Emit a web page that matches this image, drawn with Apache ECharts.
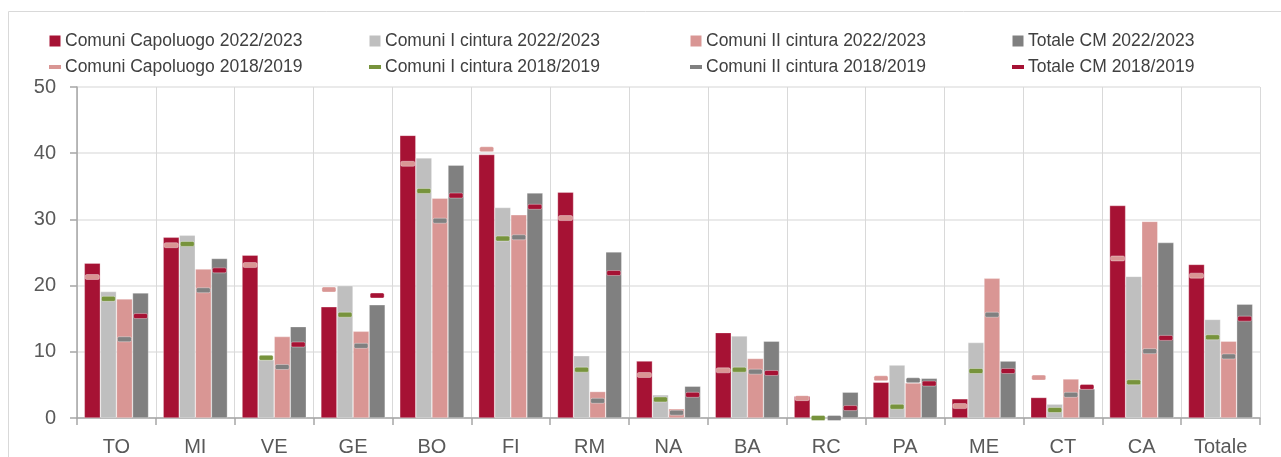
<!DOCTYPE html>
<html>
<head>
<meta charset="utf-8">
<script src="https://cdn.jsdelivr.net/npm/echarts@6/dist/echarts.min.js"></script>
<style>
html,body{margin:0;padding:0;background:#fff;}
#chart{width:1281px;height:457px;}
</style>
</head>
<body>
<div id="chart"></div>
<script>
// categorie (città metropolitane)
var categories = ['TO','MI','VE','GE','BO','FI','RM','NA','BA','RC','PA','ME','CT','CA','Totale'];
var yTicks = [0, 10, 20, 30, 40, 50];

// 2022/2023 (barre)
var capoluogo2223 = [23.4, 27.3, 24.6, 16.8, 42.7, 39.8, 34.1, 8.6, 12.9, 3.3, 5.4, 2.9, 3.1, 32.1, 23.2];
var cintura1_2223 = [19.1, 27.6, 8.8, 20.0, 39.3, 31.8, 9.4, 3.5, 12.4, 0, 8.0, 11.4, 2.1, 21.4, 14.9];
var cintura2_2223 = [18.0, 22.5, 12.3, 13.1, 33.2, 30.7, 4.0, 1.4, 9.0, 0, 5.3, 21.1, 5.9, 29.7, 11.6];
var totale2223    = [18.9, 24.1, 13.8, 17.1, 38.2, 34.0, 25.1, 4.8, 11.6, 3.9, 6.0, 8.6, 4.4, 26.5, 17.2];

// 2018/2019 (trattini)
var capoluogo1819 = [21.3, 26.1, 23.1, 19.4, 38.4, 40.6, 30.2, 6.5, 7.2, 3.0, 6.0, 1.8, 6.1, 24.1, 21.5];
var cintura1_1819 = [18.0, 26.3, 9.1, 15.6, 34.3, 27.1, 7.3, 2.8, 7.3, 0, 1.7, 7.1, 1.2, 5.4, 12.2];
var cintura2_1819 = [11.9, 19.3, 7.7, 10.9, 29.8, 27.3, 2.6, 0.8, 7.0, 0, 5.7, 15.6, 3.5, 10.1, 9.3];
var totale1819    = [15.4, 22.3, 11.1, 18.5, 33.6, 31.9, 21.9, 3.5, 6.8, 1.5, 5.2, 7.1, 4.7, 12.1, 15.0];

var colCap = '#A61234', colI = '#BFBFBF', colII = '#D99694', colTot = '#808080', colGreen = '#77933C';
var font = "'Liberation Sans', Arial, sans-serif";
var catGap = 0.185;

var myChart = echarts.init(document.getElementById('chart'));

function barSerie(name, data, color) {
    return {
        name: name, type: 'bar', data: data,
        barGap: 0, barCategoryGap: (catGap * 100) + '%',
        itemStyle: {color: color, borderColor: 'rgba(255,255,255,0.5)', borderWidth: 0.6},
        emphasis: {disabled: true},
        z: 2
    };
}

// trattino allineato alla k-esima barra della categoria
function dashSerie(name, data, color, k) {
    return {
        name: name, type: 'custom', data: data.map(function (v, i) { return [i, v]; }),
        itemStyle: {color: color},
        encode: {x: 0, y: 1},
        z: 5,
        renderItem: function (params, api) {
            var pt = api.coord([api.value(0), api.value(1)]);
            var band = api.size([1, 0])[0];
            var bw = band * (1 - catGap) / 4;
            var cx = pt[0] + (k - 1.5) * bw;
            return {
                type: 'rect',
                shape: {x: cx - 7, y: pt[1] - 2.5, width: 14, height: 5, r: 1.5},
                style: {fill: color, stroke: 'rgba(255,255,255,0.6)', lineWidth: 0.6}
            };
        }
    };
}

var square = 'path://M0,0h11v11h-11z';
var dash = 'path://M0,0h12v4h-12z';
var legendCols = [
    [{name: 'Comuni Capoluogo 2022/2023', icon: square}, {name: 'Comuni Capoluogo 2018/2019', icon: dash}],
    [{name: 'Comuni I cintura 2022/2023', icon: square}, {name: 'Comuni I cintura 2018/2019', icon: dash}],
    [{name: 'Comuni II cintura 2022/2023', icon: square}, {name: 'Comuni II cintura 2018/2019', icon: dash}],
    [{name: 'Totale CM 2022/2023', icon: square}, {name: 'Totale CM 2018/2019', icon: dash}]
];
var legendLeft = [44, 364, 685, 1007];

var option = {
    animation: false,
    textStyle: {fontFamily: font},
    graphic: [{
        type: 'rect', silent: true,
        shape: {x: 8.5, y: 11.5, width: 1400, height: 600},
        style: {fill: 'none', stroke: '#d9d9d9', lineWidth: 1}
    }],
    legend: legendCols.map(function (col, i) {
        return {
            data: col, orient: 'vertical', left: legendLeft[i], top: 26,
            itemWidth: 12, itemHeight: 11, itemGap: 6, symbolKeepAspect: true,
            selectedMode: false,
            itemStyle: {borderWidth: 0},
            textStyle: {fontFamily: font, fontSize: 17.5, color: '#404040', lineHeight: 20, padding: [0, 0, 0, -1]}
        };
    }),
    grid: {left: 77, right: 21, top: 87, bottom: 37, containLabel: false},
    xAxis: {
        type: 'category', data: categories,
        axisLine: {lineStyle: {color: '#a6a6a6', width: 1.5}},
        axisTick: {show: true, length: 7, lineStyle: {color: '#a6a6a6', width: 1.5}},
        axisLabel: {fontFamily: font, fontSize: 20, color: '#595959', margin: 19},
        splitLine: {show: true, lineStyle: {color: '#d9d9d9', width: 1}}
    },
    yAxis: {
        type: 'value', min: yTicks[0], max: yTicks[yTicks.length - 1], interval: 10,
        axisLine: {show: true, lineStyle: {color: '#a6a6a6', width: 1.5}},
        axisTick: {show: true, length: 7, lineStyle: {color: '#a6a6a6', width: 1.5}},
        axisLabel: {fontFamily: font, fontSize: 20, color: '#595959', margin: 21},
        splitLine: {lineStyle: {color: '#e3e3e3', width: 1.5}}
    },
    series: [
        barSerie('Comuni Capoluogo 2022/2023', capoluogo2223, colCap),
        barSerie('Comuni I cintura 2022/2023', cintura1_2223, colI),
        barSerie('Comuni II cintura 2022/2023', cintura2_2223, colII),
        barSerie('Totale CM 2022/2023', totale2223, colTot),
        dashSerie('Comuni Capoluogo 2018/2019', capoluogo1819, colII, 0),
        dashSerie('Comuni I cintura 2018/2019', cintura1_1819, colGreen, 1),
        dashSerie('Comuni II cintura 2018/2019', cintura2_1819, colTot, 2),
        dashSerie('Totale CM 2018/2019', totale1819, colCap, 3)
    ]
};

myChart.setOption(option, true);
</script>
</body>
</html>
